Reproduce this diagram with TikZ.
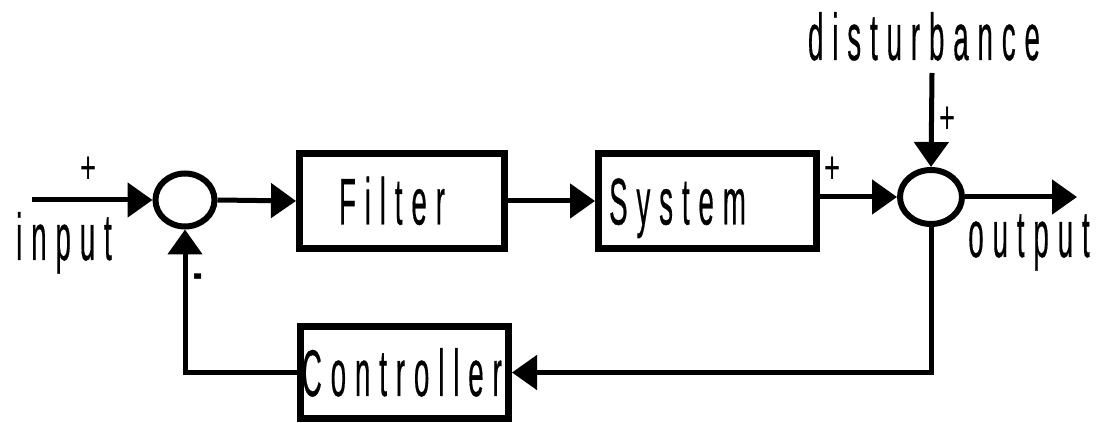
\documentclass[tikz,border=0pt]{standalone}
\usepackage{fontspec}
\setmainfont{Liberation Sans}
\newfontfamily\lblfont[LetterSpace=32,FakeBold=0.6]{Liberation Sans}
\usetikzlibrary{arrows.meta,shapes.geometric}
\newcommand{\lbl}[1]{\scalebox{0.42}[1]{\lblfont\fontsize{49.5pt}{50pt}\selectfont #1}}
\newcommand{\sgn}[1]{\scalebox{0.6}[1]{\fontsize{34.5pt}{35pt}\selectfont #1}}
\begin{document}
\begin{tikzpicture}[x=0.75pt,y=-0.75pt,
  blk/.style={draw, line width=5.25pt, rectangle, inner sep=0pt, text height=35.25pt, text depth=0pt},
  sumj/.style={draw, ellipse, line width=4.5pt, inner sep=0pt},
  txt/.style={inner sep=0pt, anchor=base},
  sgnnode/.style={inner sep=0pt},
  conn/.style={line width=3.75pt, -{Triangle[length=18.75pt,width=25.5pt]}}]

\useasboundingbox (0,0) rectangle (1098,423);

\node[sumj, minimum width=44.25pt, minimum height=39.75pt] (s1) at (185,200) {};
\node[sumj, minimum width=46.5pt, minimum height=40.5pt] (s2) at (931,197) {};

\node[blk, minimum width=153.75pt, minimum height=71.25pt] (filt) at (402,201) {\lbl{Filter}\hspace*{15pt}};
\node[blk, minimum width=163.5pt, minimum height=71.25pt] (sys) at (707.5,201) {\lbl{System}\hspace*{45pt}};
\node[blk, minimum width=156pt, minimum height=69pt] (ctrl) at (404.5,372.5) {\lbl{Controller}\hspace*{4pt}};

\node[txt] (in) at (64,260) {\lbl{input}};
\node[txt] (out) at (1029,257) {\lbl{output}};
\node[txt] (dist) at (924,60) {\lbl{disturbance}};

\node[sgnnode] (p1) at (89,170) {\sgn{+}};
\node[sgnnode] (p2) at (833,170) {\sgn{+}};
\node[sgnnode] (p3) at (948,120) {\sgn{+}};
\node[sgnnode] (m1) at (198,281) {\sgn{\bfseries -}};

\coordinate (inS) at (32,200);
\coordinate (outE) at (1077,197);
\coordinate (dT) at (932,73);

\draw[conn] (inS) -- (s1.west);
\draw[conn] (s1.east) -- (filt.west);
\draw[conn] (filt.east) -- (sys.west);
\draw[conn] (s2.west -| sys.east) -- (s2.west);
\draw[conn] (s2.east) -- (outE);
\draw[conn] (dT) -- (s2.north);
\draw[conn] (s2.south) |- (ctrl.east);
\draw[conn] (ctrl.west) -| (s1.south);
\end{tikzpicture}
\end{document}
